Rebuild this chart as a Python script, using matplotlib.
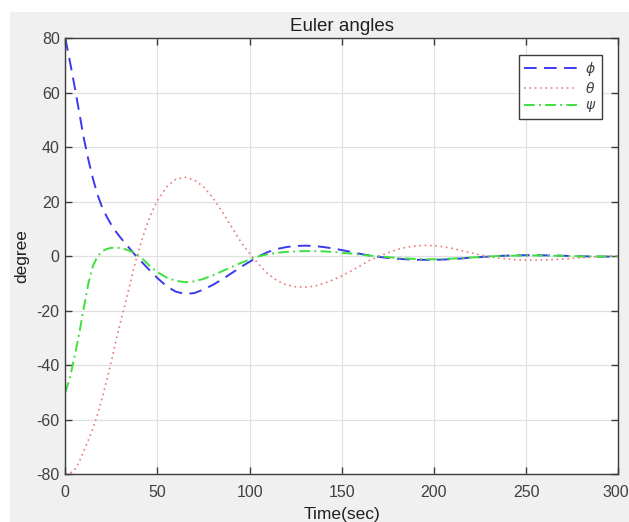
import matplotlib
matplotlib.use("Agg")
import matplotlib.pyplot as plt
from matplotlib.patches import Rectangle
from matplotlib.transforms import ScaledTranslation

plt.rcParams['font.family'] = ['Liberation Sans', 'DejaVu Sans']
plt.rcParams['axes.unicode_minus'] = False

# time samples (sec)
time = [0, 2.5, 5, 7.5, 10, 12.5, 15, 17.5, 20, 22.5, 25, 27.5, 30, 32.5, 35, 37.5,
        40, 42.5, 45, 47.5, 50, 55, 60, 65, 70, 75, 80, 85, 90, 95, 100, 105, 110,
        115, 120, 125, 130, 135, 140, 145, 150, 155, 160, 165, 170, 175, 180, 185,
        190, 195, 200, 205, 210, 215, 220, 225, 230, 235, 240, 245, 250, 255, 260,
        265, 270, 275, 280, 285, 290, 295, 300]

phi = [80, 71.5, 62.5, 53, 43.5, 35.5, 28.5, 22.5, 18, 14.5, 11.5, 9, 6.8, 4.8, 2.8, 0.8,
       -1, -2.8, -4.6, -6.4, -8, -11, -13, -13.8, -13.5, -12.2, -10.5, -8.5, -6.3,
       -4, -2, 0, 1.6, 2.7, 3.4, 3.8, 3.9, 3.8, 3.4, 2.9, 2.3, 1.6, 0.9, 0.3, -0.2,
       -0.6, -0.9, -1.1, -1.25, -1.3, -1.3, -1.2, -1.0, -0.8, -0.5, -0.3, -0.1, 0.1,
       0.25, 0.35, 0.4, 0.4, 0.35, 0.3, 0.2, 0.1, 0.0, -0.05, -0.1, -0.1, -0.1]

theta = [-80, -79.6, -78.5, -75.5, -71.5, -67.5, -63, -58, -52, -45.5, -38.5, -31,
         -24, -17.5, -10.5, -3.5, 2.5, 8, 13, 17, 20.5, 25.5, 28.3, 29, 28, 25.5,
         21.5, 16.5, 11, 5.5, 1, -3, -6.5, -9, -10.5, -11.2, -11.3, -11, -10, -8.7,
         -7.2, -5.4, -3.5, -1.5, 0, 1.3, 2.5, 3.3, 3.8, 4, 3.9, 3.5, 2.9, 2.1, 1.3,
         0.5, -0.1, -0.6, -1.0, -1.3, -1.4, -1.4, -1.35, -1.2, -1.0, -0.75, -0.5,
         -0.3, -0.1, 0.05, 0.15]

psi = [-50, -44.5, -37, -28.5, -19, -10, -3.5, 0, 1.8, 2.7, 3.1, 3.2, 3.0, 2.6, 2.0,
       1.1, 0, -1.3, -3.0, -4.5, -5.8, -7.8, -9.0, -9.5, -9.2, -8.3, -7.0, -5.5,
       -4.0, -2.5, -1.2, 0, 0.8, 1.3, 1.6, 1.8, 1.9, 1.9, 1.8, 1.6, 1.3, 1.0, 0.6,
       0.25, 0, -0.3, -0.6, -0.8, -1.0, -1.1, -1.1, -1.0, -0.85, -0.65, -0.45,
       -0.25, -0.05, 0.1, 0.2, 0.25, 0.3, 0.3, 0.25, 0.2, 0.15, 0.05, 0, -0.05,
       -0.05, -0.05, -0.05]

xticks = [0, 50, 100, 150, 200, 250, 300]
yticks = [-80, -60, -40, -20, 0, 20, 40, 60, 80]

W, H = 629, 522
fig = plt.figure(figsize=(W / 100, H / 100), dpi=100, facecolor='white')
fig.patches.append(Rectangle((10 / W, 0), 1 - 10 / W, 1 - 12 / H,
                             transform=fig.transFigure, facecolor='#f0f0f0',
                             edgecolor='none', zorder=-10))

ax = fig.add_axes([65.3 / W, 1 - 474.3 / H, (618.3 - 65.3) / W, (474.3 - 38.3) / H])
ax.set_facecolor('white')

ax.plot(time, phi, color='#3a3aee', lw=1.4, ls=(0, (6.5, 3.8)), label=r'$\phi$')
ax.plot(time, theta, color='#f07878', lw=1.2, ls=(0, (1, 2.2)), label=r'$\theta$')
ax.plot(time, psi, color='#3ee03e', lw=1.4, ls=(0, (5.5, 2.2, 1, 2.2)), label=r'$\psi$')

ax.set_xlim(0, 300)
ax.set_ylim(-80, 80)
ax.set_xticks(xticks)
ax.set_yticks(yticks)
ax.grid(True, color='#e0e0e0', lw=0.9)
ax.set_axisbelow(True)

for s in ax.spines.values():
    s.set_color('#3c3c3c')
    s.set_linewidth(1.0)
ax.tick_params(direction='in', length=5, width=1.0, color='#3c3c3c',
               top=True, right=True, labelsize=11.5, labelcolor='#404040')
ax.tick_params(axis='x', pad=8)
ax.tick_params(axis='y', pad=4)

# keep the last x tick label inside the figure
fig.canvas.draw()
ax.get_xticklabels()[-1].set_transform(
    ax.get_xticklabels()[-1].get_transform() + ScaledTranslation(-3 / 100, 0, fig.dpi_scale_trans))

ax.set_title('Euler angles', fontsize=13.5, color='#202020', pad=5)
ax.set_xlabel('Time(sec)', fontsize=12.5, color='#202020', labelpad=5)
ax.set_ylabel('degree', fontsize=12.5, color='#202020', labelpad=5)

leg = ax.legend(loc='upper right', fontsize=10, handlelength=3.8,
                borderaxespad=1.2, fancybox=False, framealpha=1,
                handletextpad=0.6, labelspacing=0.2, borderpad=0.35)
leg.get_frame().set_edgecolor('#3c3c3c')
leg.get_frame().set_linewidth(1.0)
for t in leg.get_texts():
    t.set_color('#404040')

fig.savefig('out.png', dpi=100, facecolor=fig.get_facecolor())
